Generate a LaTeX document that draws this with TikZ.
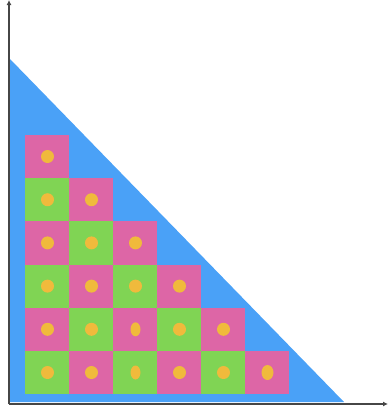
\documentclass[tikz,border=0pt]{standalone}
\usetikzlibrary{arrows.meta}
\definecolor{tblue}{RGB}{74,161,247}
\definecolor{tpink}{RGB}{221,102,166}
\definecolor{tgreen}{RGB}{128,212,84}
\definecolor{tdot}{RGB}{240,186,60}
\definecolor{taxis}{RGB}{70,70,70}
\tikzset{
  axisline/.style={draw=taxis,line width=1.6pt,-{Latex[length=5pt,width=5pt]}},
  pinkbox/.style={fill=tpink},
  greenbox/.style={fill=tgreen},
  dotmark/.style={fill=tdot}
}
\begin{document}
\begin{tikzpicture}[x=1pt,y=-1pt]
\useasboundingbox (0,0) rectangle (388,416);
% blue triangle
\fill[tblue] (10,59) -- (10,402) -- (344,402) -- cycle;
% squares
\foreach \r in {1,...,6}{
  \foreach \c in {1,...,\r}{
    \pgfmathsetmacro{\xa}{25+44*(\c-1)}
    \pgfmathsetmacro{\ya}{135+43.2*(\r-1)}
    \pgfmathtruncatemacro{\parity}{mod(\r-\c,2)}
    \ifnum\parity=0
      \fill[pinkbox] (\xa,\ya) rectangle ++(44,43.2);
    \else
      \fill[greenbox] (\xa,\ya) rectangle ++(44,43.2);
    \fi
    \pgfmathsetmacro{\xd}{\xa+22.5}
    \pgfmathsetmacro{\yd}{\ya+21.5}
    \ifnum\c=3
      \ifnum\r>4
        \fill[dotmark] (\xd,\yd) ellipse (5 and 7);
      \else
        \fill[dotmark] (\xd,\yd) circle (6.5);
      \fi
    \else
      \ifnum\c=6
        \fill[dotmark] (\xd,\yd) ellipse (6 and 7.5);
      \else
        \fill[dotmark] (\xd,\yd) circle (6.5);
      \fi
    \fi
  }
}
% axes
\coordinate (O) at (9,404);
\coordinate (ytop) at (9,0);
\coordinate (xend) at (388,404);
\draw[axisline] (O) -- (ytop);
\draw[axisline] (O) -- (xend);
\end{tikzpicture}
\end{document}
